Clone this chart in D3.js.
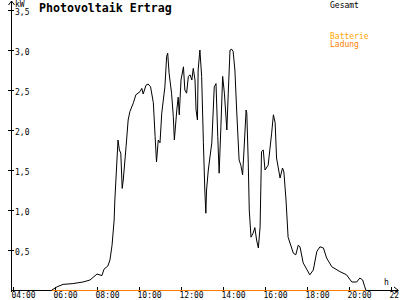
<!DOCTYPE html>
<html>
<head>
<meta charset="utf-8">
<script src="https://cdn.jsdelivr.net/npm/d3@7"></script>
<style>
  body { margin: 0; background: #fff; }
  svg { display: block; }
  text { font-family: "DejaVu Sans Mono", monospace; font-size: 8px; }
  .title { font-size: 11.6px; font-weight: bold; }
  .axis path, .axis line { stroke: #000; shape-rendering: crispEdges; }
  .line { fill: none; stroke-width: 1; }
</style>
</head>
<body>
<svg width="400" height="300"></svg>
<script>
// Gesamt (kW) over the day
var gesamtTimes = ["05:51","06:06","06:23","06:51","07:20","07:40","08:00","08:14","08:20","08:31",
  "08:37","08:43","08:49","08:51","09:00","09:04","09:08","09:12","09:15","09:23",
  "09:29","09:34","09:44","09:51","10:03","10:08","10:12","10:20","10:26","10:33",
  "10:41","10:46","10:50","10:55","11:00","11:05","11:14","11:19","11:22","11:26",
  "11:33","11:38","11:41","11:48","11:52","11:55","12:00","12:07","12:11","12:16",
  "12:21","12:26","12:31","12:35","12:40","12:43","12:47","12:49","12:54","12:59",
  "13:04","13:08","13:11","13:13","13:18","13:28","13:35","13:40","13:45","13:49",
  "13:54","13:59","14:04","14:11","14:15","14:20","14:25","14:29","14:34","14:39",
  "14:46","14:51","14:56","15:00","15:06","15:08","15:12","15:15","15:20","15:26",
  "15:31","15:36","15:41","15:46","15:50","15:55","16:00","16:09","16:19","16:24",
  "16:29","16:33","16:43","16:50","16:54","17:00","17:06","17:21","17:28","17:35",
  "17:40","17:49","18:08","18:18","18:28","18:37","18:47","18:56","19:11","19:34",
  "19:53","20:08","20:22","20:31","20:39","20:45","20:48"];
var gesamtValues = [0,0.04,0.07,0.08,0.10,0.125,0.2,0.18,0.26,0.30,
  0.375,0.56,0.875,1.125,1.875,1.75,1.71,1.27,1.375,1.79,
  2.125,2.23,2.34,2.44,2.48,2.52,2.45,2.56,2.575,2.54,
  2.34,1.92,1.6,1.875,1.84,2.21,2.54,2.92,2.96,2.71,
  2.46,2.17,1.875,2.25,2.41,2.19,2.625,2.79,2.5,2.46,
  2.67,2.69,2.625,2.77,2.625,2.25,2.125,2.75,3.0,2.67,
  1.84,1.25,0.96,1.25,1.5,1.84,2.54,2.58,1.92,1.46,
  2.04,2.67,2.46,2.0,2.46,3.0,3.01,2.98,2.75,2.25,
  1.625,1.56,1.44,1.75,2.25,2.21,1.625,1.0,0.66,0.71,
  0.78,0.625,0.525,0.79,1.73,1.75,1.5,1.56,1.96,2.19,
  2.09,1.65,1.4,1.525,1.475,1.125,0.66,0.46,0.44,0.56,
  0.54,0.34,0.19,0.25,0.48,0.54,0.525,0.4,0.29,0.23,
  0.19,0.1,0.1,0.15,0.125,0.04,0];

// Batterie Ladung (kW)
var ladungTimes = ["05:51","20:48"];
var ladungValues = [0,0];

var yTicks = [0.5,1.0,1.5,2.0,2.5,3.0,3.5];
var xTicks = [4,6,8,10,12,14,16,18,20,22];

function hours(s) {
  var p = s.split(":");
  return +p[0] + (+p[1]) / 60;
}

var svg = d3.select("svg");

var x = d3.scaleLinear().domain([4, 22]).range([13, 391]),
    y = d3.scaleLinear().domain([0, 3.5]).range([290, 10]);

var x0 = 11; // y axis position

// title
svg.append("text")
    .attr("class", "title")
    .attr("x", 39)
    .attr("y", 12)
    .text("Photovoltaik Ertrag");

// legend
svg.append("text").attr("x", 330).attr("y", 8).attr("fill", "#000").text("Gesamt");
svg.append("text").attr("x", 330).attr("y", 39).attr("fill", "#ffa500").text("Batterie");
svg.append("text").attr("x", 330).attr("y", 47).attr("fill", "#ff7f00").text("Ladung");

// y axis
var yAxis = svg.append("g")
    .attr("class", "axis y")
    .attr("transform", "translate(" + x0 + ",0)")
    .call(d3.axisLeft(y).tickValues(yTicks).tickSize(3)
      .tickFormat(function(d) { return d3.format(".1f")(d).replace(".", ","); }));
yAxis.select(".domain").remove();
yAxis.selectAll(".tick line").attr("x1", 3).attr("x2", -3);
yAxis.selectAll(".tick text")
    .attr("x", 4)
    .attr("dy", "0.35em")
    .attr("transform", "translate(0,1.5)")
    .attr("text-anchor", "start")
    .attr("fill", "#000")
    .attr("font-size", null)
    .attr("font-family", null);

svg.append("line")
    .attr("x1", x0 + 0.5).attr("x2", x0 + 0.5)
    .attr("y1", 1).attr("y2", y(0) + 2)
    .attr("stroke", "#000");
svg.append("path")
    .attr("d", "M" + (x0 - 2.5) + ",5L" + (x0 + 0.5) + ",1L" + (x0 + 3.5) + ",5")
    .attr("fill", "none").attr("stroke", "#000");
svg.append("text").attr("x", 15).attr("y", 6.5).attr("font-size", 7).text("kW");

// x axis
var xAxis = svg.append("g")
    .attr("class", "axis x")
    .attr("transform", "translate(0," + y(0) + ")")
    .call(d3.axisBottom(x).tickValues(xTicks).tickSize(2)
      .tickFormat(function(d) { return (d < 10 ? "0" : "") + d + ":00"; }));
xAxis.select(".domain").remove();
xAxis.selectAll(".tick line").attr("y1", -3).attr("y2", 2);
xAxis.selectAll(".tick text")
    .attr("y", 8)
    .attr("dy", 0)
    .attr("x", -2)
    .attr("text-anchor", "start")
    .attr("fill", "#000")
    .attr("font-size", null)
    .attr("font-family", null);

svg.append("line")
    .attr("x1", x0).attr("x2", 398)
    .attr("y1", y(0) + 0.5).attr("y2", y(0) + 0.5)
    .attr("stroke", "#000");
svg.append("path")
    .attr("d", "M394," + (y(0) - 3) + "L398.5," + (y(0) + 0.5) + "L394," + (y(0) + 4))
    .attr("fill", "none").attr("stroke", "#000");
svg.append("text").attr("x", 384).attr("y", 285).text("h");

var line = d3.line()
    .x(function(d) { return x(d.t); })
    .y(function(d) { return y(d.v); });

var gesamt = gesamtTimes.map(function(t, i) { return {t: hours(t), v: gesamtValues[i]}; });
var ladung = ladungTimes.map(function(t, i) { return {t: hours(t), v: ladungValues[i]}; });

svg.append("path")
    .datum(gesamt)
    .attr("class", "line gesamt")
    .attr("stroke", "#000")
    .attr("d", line);

svg.append("path")
    .datum(ladung)
    .attr("class", "line ladung")
    .attr("stroke", "#ff8000")
    .attr("transform", "translate(0,0.5)")
    .attr("d", line);
</script>
</body>
</html>
